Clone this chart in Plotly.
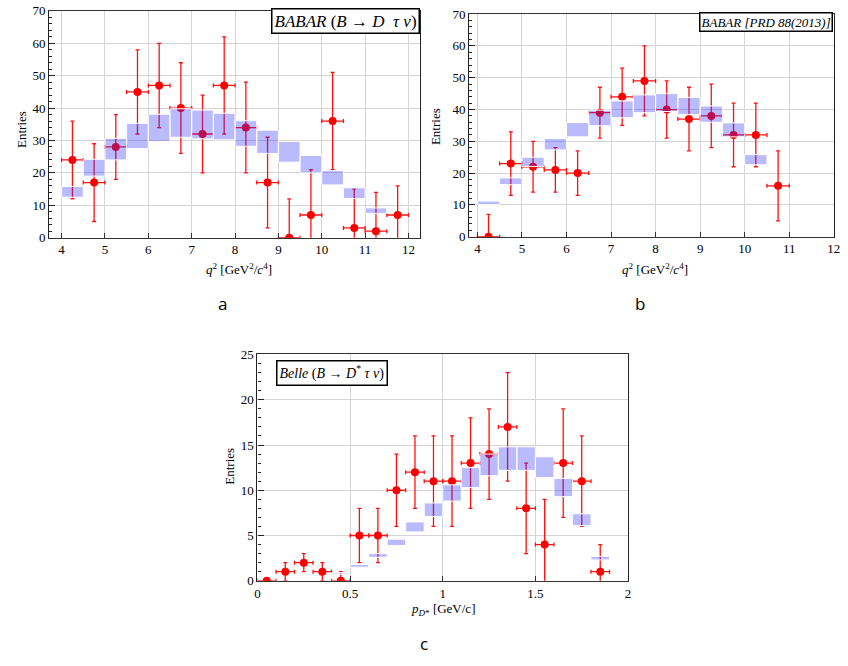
import plotly.graph_objects as go

# ---------------- data ----------------
# Panel a: BABAR (B -> D tau nu)
a_centers = [4.25, 4.75, 5.25, 5.75, 6.25, 6.75, 7.25, 7.75, 8.25, 8.75, 9.25, 9.75, 10.25, 10.75, 11.25, 11.75]
a_counts = [24, 17, 28, 45, 47, 40, 32, 47, 34, 17, 0, 7, 36, 3, 2, 7]
a_err = [12, 12, 10, 13, 13, 14, 12, 15, 14, 14, 12, 14, 15, 12, 12, 9]
a_band_left = [4.0, 4.5, 5.0, 5.5, 6.0, 6.5, 7.0, 7.5, 8.0, 8.5, 9.0, 9.5, 10.0, 10.5, 11.0]
a_band_lo = [12.5, 19.0, 24.0, 27.5, 29.7, 31.0, 30.5, 30.2, 28.2, 26.0, 23.3, 20.0, 16.3, 12.1, 7.5]
a_band_hi = [15.8, 24.2, 30.7, 35.3, 38.1, 39.8, 39.4, 38.4, 36.1, 33.2, 29.7, 25.4, 20.7, 15.4, 9.2]

# Panel b: BABAR [PRD 88(2013)]
b_centers = [4.25, 4.75, 5.25, 5.75, 6.25, 6.75, 7.25, 7.75, 8.25, 8.75, 9.25, 9.75, 10.25, 10.75]
b_counts = [0, 23, 22, 21, 20, 39, 44, 49, 40, 37, 38, 32, 32, 16]
b_err = [7, 10, 8, 7, 7, 8, 9, 11, 9, 10, 10, 10, 10, 11]
b_band_left = [4.0, 4.5, 5.0, 5.5, 6.0, 6.5, 7.0, 7.5, 8.0, 8.5, 9.0, 9.5, 10.0]
b_band_lo = [10.1, 16.4, 22.1, 27.3, 31.4, 34.9, 37.4, 39.0, 39.4, 38.4, 36.0, 31.4, 22.6]
b_band_hi = [11.2, 18.5, 25.0, 30.9, 35.9, 39.8, 42.7, 44.6, 45.0, 43.8, 41.1, 35.8, 25.8]

# Panel c: Belle (B -> D* tau nu)
c_centers = [0.05, 0.15, 0.25, 0.35, 0.45, 0.55, 0.65, 0.75, 0.85, 0.95, 1.05, 1.15, 1.25, 1.35, 1.45, 1.55, 1.65, 1.75, 1.85]
c_counts = [0, 1, 2, 1, 0, 5, 5, 10, 12, 11, 11, 13, 14, 17, 8, 4, 13, 11, 1]
c_err = [0, 1, 1, 1, 1, 3, 3, 4, 4, 5, 5, 5, 5, 6, 5, 5, 6, 5, 3]
c_band_left = [0.4, 0.5, 0.6, 0.7, 0.8, 0.9, 1.0, 1.1, 1.2, 1.3, 1.4, 1.5, 1.6, 1.7, 1.8]
c_band_lo = [0.75, 1.5, 2.6, 3.9, 5.4, 7.1, 8.8, 10.3, 11.6, 12.2, 12.2, 11.4, 9.3, 6.1, 2.3]
c_band_hi = [0.9, 1.8, 3.0, 4.6, 6.5, 8.6, 10.6, 12.5, 14.0, 14.8, 14.8, 13.7, 11.3, 7.4, 2.7]

q2_ticks = [4, 5, 6, 7, 8, 9, 10, 11, 12]
p_ticks = [0, 0.5, 1, 1.5, 2]
p_tick_text = ["0", "0.5", "1", "1.5", "2"]

W, H = 848, 666
SERIF = "Liberation Serif"


def band_xy(left, width, lo, hi):
    xs, ys = [], []
    for l, a, b in zip(left, lo, hi):
        xs += [l, l + width, l + width, l, l, None]
        ys += [a, a, b, b, a, None]
    return xs, ys


fig = go.Figure()


def add_panel(xa, ya, centers, counts, err, xerr, left, width, lo, hi):
    fig.add_trace(go.Scatter(
        x=centers, y=counts, mode="markers", xaxis=xa, yaxis=ya,
        marker=dict(color="#ff0000", size=8),
        error_y=dict(type="data", array=err, color="#ff1010", thickness=1.3, width=2),
        error_x=dict(type="constant", value=xerr, color="#ff1010", thickness=1.3, width=2),
        showlegend=False, hoverinfo="skip"))
    bx, by = band_xy(left, width, lo, hi)
    fig.add_trace(go.Scatter(
        x=bx, y=by, mode="lines", fill="toself", xaxis=xa, yaxis=ya,
        fillcolor="rgba(40,40,255,0.32)", line=dict(color="white", width=1),
        showlegend=False, hoverinfo="skip"))


add_panel("x", "y", a_centers, a_counts, a_err, 0.25, a_band_left, 0.5, a_band_lo, a_band_hi)
add_panel("x2", "y2", b_centers, b_counts, b_err, 0.25, b_band_left, 0.5, b_band_lo, b_band_hi)
add_panel("x3", "y3", c_centers, c_counts, c_err, 0.05, c_band_left, 0.1, c_band_lo, c_band_hi)


def xaxis(domain, rng, anchor, tickvals, ticktext=None):
    d = dict(domain=domain, range=rng, anchor=anchor, tickmode="array", tickvals=tickvals,
             ticks="inside", ticklen=5, tickcolor="#333", showline=True, mirror=True,
             linecolor="#333", linewidth=1.3, showgrid=True, gridcolor="#d4d4d4", gridwidth=1,
             zeroline=False, tickfont=dict(family=SERIF, size=13, color="black"))
    if ticktext is not None:
        d["ticktext"] = ticktext
    return d


def yaxis(domain, rng, anchor, dtick, minor_dtick):
    return dict(domain=domain, range=rng, anchor=anchor, dtick=dtick, tick0=0,
                ticks="inside", ticklen=6, tickcolor="#222", showline=True, mirror=True,
                linecolor="#222", linewidth=1.3, showgrid=True, gridcolor="#d4d4d4", gridwidth=1,
                zeroline=False, tickfont=dict(family=SERIF, size=13, color="black"),
                minor=dict(dtick=minor_dtick, ticks="inside", ticklen=3, tickcolor="#222", showgrid=False))


def px_x(v):
    return v / W


def px_y(v):
    return 1 - v / H


fig.update_layout(
    width=W, height=H, margin=dict(l=0, r=0, t=0, b=0),
    paper_bgcolor="white", plot_bgcolor="white",
    xaxis=xaxis([px_x(46.7), px_x(422.3)], [3.713, 12.273], "y", q2_ticks),
    yaxis=yaxis([px_y(236), px_y(4)], [0, 70], "x", 10, 2),
    xaxis2=xaxis([px_x(471.7), px_x(840.7)], [3.815, 12.0], "y2", q2_ticks),
    yaxis2=yaxis([px_y(235), px_y(7.3)], [0, 70], "x2", 10, 2),
    xaxis3=xaxis([px_x(257.5), px_x(632.5)], [0, 2], "y3", p_ticks, p_tick_text),
    yaxis3=yaxis([px_y(587), px_y(355.5)], [0, 25], "x3", 5, 1),
)

ann = []
# in-plot label boxes
ann.append(dict(x=px_x(422), y=px_y(1), xref="paper", yref="paper", xanchor="right", yanchor="top",
                text="<i>BABAR</i> (<i>B</i> → <i>D</i>  <i>τ ν</i>)", showarrow=False,
                font=dict(family=SERIF, size=17, color="black"), bgcolor="white",
                bordercolor="black", borderwidth=1.5, borderpad=2))
ann.append(dict(x=px_x(840), y=px_y(5), xref="paper", yref="paper", xanchor="right", yanchor="top",
                text="<i>BABAR [PRD 88(2013)]</i>", showarrow=False,
                font=dict(family=SERIF, size=13, color="black"), bgcolor="white",
                bordercolor="black", borderwidth=1.5, borderpad=1))
ann.append(dict(x=px_x(276), y=px_y(361), xref="paper", yref="paper", xanchor="left", yanchor="top",
                text="<i>Belle</i> (<i>B</i> → <i>D</i><sup>*</sup> <i>τ ν</i>)", showarrow=False,
                font=dict(family=SERIF, size=14, color="black"), bgcolor="white",
                bordercolor="black", borderwidth=1.5, borderpad=2))
# axis titles
for xp, yp in [(18, 125), (437, 122), (229, 470)]:
    ann.append(dict(x=px_x(xp), y=px_y(yp), xref="paper", yref="paper", text="Entries", textangle=-90,
                    xanchor="center", yanchor="middle",
                    showarrow=False, font=dict(family=SERIF, size=13, color="black")))
for xp, yp in [(239, 268), (660, 268)]:
    ann.append(dict(x=px_x(xp), y=px_y(yp), xref="paper", yref="paper",
                    xanchor="center", yanchor="middle",
                    text="<i>q</i><sup>2</sup> [GeV<sup>2</sup>/<i>c</i><sup>4</sup>]",
                    showarrow=False, font=dict(family=SERIF, size=13, color="black")))
ann.append(dict(x=px_x(445), y=px_y(616), xref="paper", yref="paper",
                xanchor="center", yanchor="middle",
                text="<i>p</i><sub><i>D</i>*</sub> [GeV/c]",
                showarrow=False, font=dict(family=SERIF, size=13, color="black")))
# panel letters
for t, xp, yp in [("a", 222, 303), ("b", 645, 303), ("c", 426, 651)]:
    ann.append(dict(x=px_x(xp), y=px_y(yp), xref="paper", yref="paper", text=t,
                    xanchor="center", yanchor="middle",
                    showarrow=False, font=dict(family="Open Sans", size=17, color="black")))
fig.update_layout(annotations=ann)

fig.write_html("out.html")
